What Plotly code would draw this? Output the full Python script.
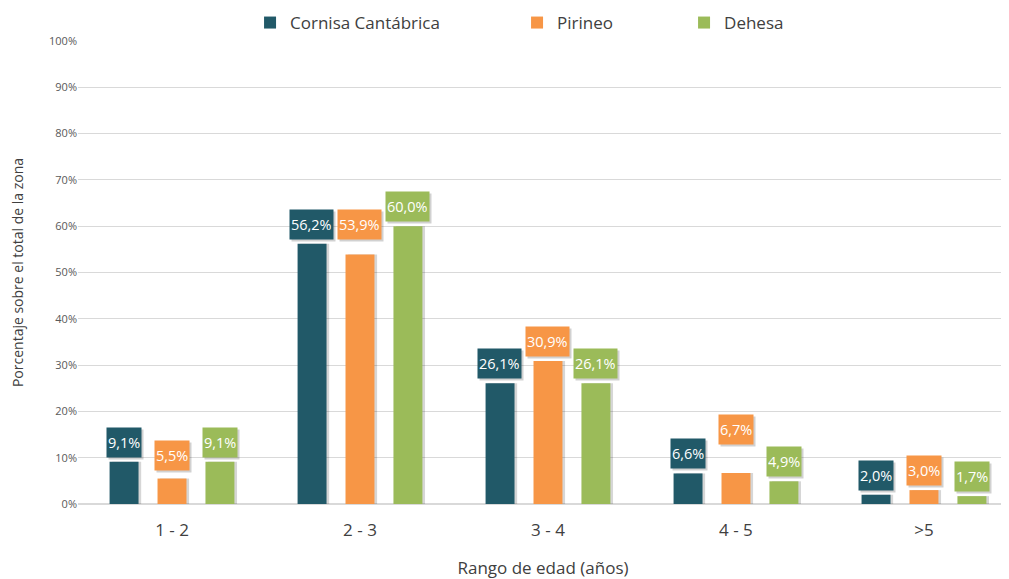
import plotly.graph_objects as go

# data
rangos = ['1 - 2', '2 - 3', '3 - 4', '4 - 5', '>5']
cornisa = [9.1, 56.2, 26.1, 6.6, 2.0]
pirineo = [5.5, 53.9, 30.9, 6.7, 3.0]
dehesa = [9.1, 60.0, 26.1, 4.9, 1.7]
y_ticks = list(range(0, 101, 10))
y_ticktext = [f'{t}%' for t in y_ticks]

# name, values, colour, bar offset (category units), label x shift (px), legend width
series = [
    ('Cornisa Cantábrica', cornisa, '#215968', -0.332, -48, 222),
    ('Pirineo', pirineo, '#F79646', -0.077, 0, 122),
    ('Dehesa', dehesa, '#9BBB59', 0.178, 48, None),
]
# labels that were nudged up by hand in the original
label_lift = {('Pirineo', '1 - 2'): 4, ('Pirineo', '2 - 3'): 10, ('Pirineo', '4 - 5'): 24}
BAR_W = 0.154
FONT = 'Open Sans'

fig = go.Figure()

# soft shadow behind each bar
for name, vals, color, off, shift, lw in series:
    fig.add_trace(go.Bar(
        x=rangos, y=vals, width=BAR_W, offset=off + 0.014,
        marker=dict(color='rgba(0,0,0,0.16)', line_width=0),
        showlegend=False, hoverinfo='skip'
    ))

for name, vals, color, off, shift, lw in series:
    fig.add_trace(go.Bar(
        x=rangos, y=vals, name=name, width=BAR_W, offset=off,
        marker=dict(color=color, line_width=0),
        legendwidth=lw,
    ))

# data labels: coloured boxes with white text and a small shadow
for name, vals, color, off, shift, lw in series:
    for cat, v in zip(rangos, vals):
        txt = f'{v:.1f}'.replace('.', ',') + '%'
        lift = 4 + label_lift.get((name, cat), 0)
        common = dict(x=cat, y=v, xref='x', yref='y', text=txt, showarrow=False,
                      yanchor='bottom', height=27, borderpad=1,
                      font=dict(family=FONT, size=14.5, color='white'))
        fig.add_annotation(**common, xshift=shift + 2, yshift=lift - 2,
                           bgcolor='rgba(0,0,0,0.18)', font_color='rgba(0,0,0,0)')
        fig.add_annotation(**common, xshift=shift, yshift=lift, bgcolor=color)

fig.update_layout(
    width=1001, height=571,
    margin=dict(l=70, r=1, t=33, b=75, autoexpand=False),
    plot_bgcolor='white', paper_bgcolor='white',
    barmode='overlay',
    font=dict(family=FONT, color='#404040'),
    legend=dict(orientation='h', x=0.185, xanchor='left', y=1.0, yanchor='bottom',
                font=dict(size=17, color='#404040'), traceorder='normal'),
    xaxis=dict(
        title=dict(text='Rango de edad (años)', font=dict(size=17, color='#404040'), standoff=25),
        tickfont=dict(size=17, color='#404040'), ticklabelstandoff=14,
        range=[-0.5, 4.447],
        showgrid=False, showline=False, zeroline=False,
    ),
    yaxis=dict(
        title=dict(text='Porcentaje sobre el total de la zona', font=dict(size=14, color='#404040'), standoff=22),
        range=[0, 100], tickvals=y_ticks, ticktext=y_ticktext,
        tickfont=dict(size=11, color='#595959'),
        showgrid=True, gridcolor='#D9D9D9', gridwidth=1,
        zeroline=True, zerolinecolor='#D9D9D9', showline=False,
    ),
)

fig.write_html('out.html')
